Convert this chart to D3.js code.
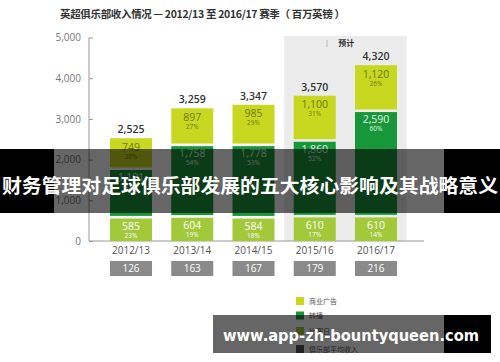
<!DOCTYPE html>
<html>
<head>
<meta charset="utf-8">
<script src="https://cdn.jsdelivr.net/npm/d3@7"></script>
<style>
  body { margin: 0; background: #fff; }
  svg { display: block; }
</style>
</head>
<body>
<script>
// Datos
const temporadas = ["2012/13", "2013/14", "2014/15", "2015/16", "2016/17"];
const diaPartido = [585, 604, 584, 610, 610];
const diaPartidoPct = ["23%", "19%", "18%", "17%", "14%"];
const transmision = [1191, 1758, 1778, 1860, 2590];
const transmisionPct = ["47%", "54%", "53%", "52%", "60%"];
const comercial = [749, 897, 985, 1100, 1120];
const comercialPct = ["30%", "27%", "29%", "31%", "26%"];
const totales = [2525, 3259, 3347, 3570, 4320];
const promedioClub = [126, 163, 167, 179, 216];
const ticksY = [0, 1000, 2000, 3000, 4000, 5000];
const temporadasPrevistas = ["2015/16", "2016/17"];
const leyenda = ["商业广告", "转播", "比赛日", "俱乐部平均收入"];

const WIDTH = 500;
const HEIGHT = 362;
const FONT = "'Open Sans', 'Noto Sans', 'Noto Sans CJK SC', sans-serif";
const CJK = "'Noto Sans CJK SC', sans-serif";

const COLORES = {
  comercial: "#c8d820",
  transmision: "#18963a",
  diaPartido: "#a2c93a",
  promedio: "#8a8a8a",
};

const svg = d3.select("body")
  .append("svg")
  .attr("width", WIDTH)
  .attr("height", HEIGHT)
  .style("font-family", FONT);

// Escalas
const escalaY = d3.scaleLinear().domain([0, 5000]).range([241, 37.5]);
const escalaX = d3.scaleBand()
  .domain(temporadas)
  .range([110, 397])
  .paddingInner(0.314)
  .paddingOuter(0);
const bw = escalaX.bandwidth();
const mediaPad = (escalaX.step() - bw) / 2;

// Título
svg.append("text")
  .attr("x", 60)
  .attr("y", 18)
  .attr("font-family", CJK)
  .attr("font-size", 10.5)
  .attr("font-weight", "bold")
  .attr("fill", "#333")
  .attr("textLength", 285)
  .attr("lengthAdjust", "spacing")
  .text("英超俱乐部收入情况  —  2012/13 至 2016/17 赛季（ 百万英镑 ）");

// Zona de previsión
const xPrev0 = escalaX(temporadasPrevistas[0]) - mediaPad;
const xPrev1 = escalaX(temporadasPrevistas[1]) + bw + mediaPad;
svg.append("rect")
  .attr("x", xPrev0)
  .attr("y", 36)
  .attr("width", xPrev1 - xPrev0)
  .attr("height", escalaY(0) - 36)
  .attr("fill", "#ececec");
svg.append("line")
  .attr("x1", 327).attr("x2", 327)
  .attr("y1", 40).attr("y2", 47)
  .attr("stroke", "#bbb");
svg.append("text")
  .attr("x", (xPrev0 + xPrev1) / 2 + 1)
  .attr("y", 46)
  .attr("text-anchor", "middle")
  .attr("font-family", CJK)
  .attr("font-size", 8)
  .attr("font-weight", "bold")
  .attr("fill", "#333")
  .text("预计");

// Eje Y
const ejeY = d3.axisLeft(escalaY)
  .tickValues(ticksY)
  .tickFormat(d3.format(","))
  .tickSize(-4)
  .tickPadding(8);
const gY = svg.append("g")
  .attr("transform", "translate(89,0)")
  .call(ejeY);
gY.select(".domain").attr("stroke", "#999").attr("d", `M0,${escalaY(5000)}V${escalaY(0)}`);
gY.selectAll(".tick line").attr("stroke", "#999");
gY.selectAll(".tick text").attr("font-size", 10).attr("fill", "#777").attr("font-family", FONT);

// Eje X (línea base)
svg.append("line")
  .attr("x1", 89).attr("x2", 424)
  .attr("y1", escalaY(0)).attr("y2", escalaY(0))
  .attr("stroke", "#999");

// Datos apilados
const datos = temporadas.map((t, i) => ({
  temporada: t,
  diaPartido: diaPartido[i],
  transmision: transmision[i],
  comercial: comercial[i],
  pct: { diaPartido: diaPartidoPct[i], transmision: transmisionPct[i], comercial: comercialPct[i] },
  total: totales[i],
  promedio: promedioClub[i],
}));

const claves = ["diaPartido", "transmision", "comercial"];
const pila = d3.stack().keys(claves)(datos);

const colorTexto = { comercial: "#6b7a0a", transmision: "#e6f5e6", diaPartido: "#ffffff" };

const capas = svg.append("g")
  .selectAll("g")
  .data(pila)
  .join("g")
  .attr("fill", (s) => COLORES[s.key]);

capas.selectAll("rect")
  .data((s) => s.map((d) => ({ key: s.key, d })))
  .join("rect")
  .attr("x", (p) => escalaX(p.d.data.temporada))
  .attr("width", bw)
  .attr("y", (p) => escalaY(p.d[1]) + (p.key === "comercial" ? 0 : 1.3))
  .attr("height", (p) => {
    const top = escalaY(p.d[1]) + (p.key === "comercial" ? 0 : 1.3);
    const bottom = escalaY(p.d[0]) - (p.key === "diaPartido" ? 0 : 1.3);
    return bottom - top;
  });

capas.selectAll("text.valor")
  .data((s) => s.map((d) => ({ key: s.key, d })))
  .join("text")
  .attr("class", "valor")
  .attr("x", (p) => escalaX(p.d.data.temporada) + bw / 2)
  .attr("y", (p) => escalaY(p.d[1]) + 12.5)
  .attr("text-anchor", "middle")
  .attr("font-size", 10.5)
  .attr("fill", (p) => colorTexto[p.key])
  .text((p) => d3.format(",")(p.d.data[p.key]));

capas.selectAll("text.pct")
  .data((s) => s.map((d) => ({ key: s.key, d })))
  .join("text")
  .attr("class", "pct")
  .attr("x", (p) => escalaX(p.d.data.temporada) + bw / 2)
  .attr("y", (p) => escalaY(p.d[1]) + 20.5)
  .attr("text-anchor", "middle")
  .attr("font-size", 6.5)
  .attr("fill", (p) => colorTexto[p.key])
  .text((p) => p.d.data.pct[p.key]);

// Totales
svg.append("g")
  .selectAll("text")
  .data(datos)
  .join("text")
  .attr("x", (d) => escalaX(d.temporada) + bw / 2)
  .attr("y", (d) => escalaY(d.total) - 5)
  .attr("text-anchor", "middle")
  .attr("font-size", 10.5)
  .attr("font-weight", 600)
  .attr("fill", "#333")
  .text((d) => d3.format(",")(d.total));

// Etiquetas de temporada
svg.append("g")
  .selectAll("text")
  .data(datos)
  .join("text")
  .attr("x", (d) => escalaX(d.temporada) + bw / 2)
  .attr("y", 253.5)
  .attr("text-anchor", "middle")
  .attr("font-size", 10)
  .attr("fill", "#555")
  .text((d) => d.temporada);

// Ingreso promedio por club
const cajas = svg.append("g")
  .selectAll("g")
  .data(datos)
  .join("g")
  .attr("transform", (d) => `translate(${escalaX(d.temporada)},261)`);
cajas.append("rect")
  .attr("width", bw)
  .attr("height", 15)
  .attr("fill", COLORES.promedio);
cajas.append("text")
  .attr("x", bw / 2)
  .attr("y", 11.3)
  .attr("text-anchor", "middle")
  .attr("font-size", 10)
  .attr("fill", "#fff")
  .text((d) => d.promedio);

// Leyenda
const coloresLeyenda = [COLORES.comercial, COLORES.transmision, COLORES.diaPartido, "#555"];
const posLeyenda = [301, 315.5, 331, 349];
const itemLeyenda = svg.append("g")
  .selectAll("g")
  .data(leyenda)
  .join("g")
  .attr("transform", (d, i) => `translate(296,${posLeyenda[i]})`);
itemLeyenda.append("rect")
  .attr("y", -4)
  .attr("width", 8)
  .attr("height", 8)
  .attr("fill", (d, i) => coloresLeyenda[i]);
itemLeyenda.append("text")
  .attr("x", 13)
  .attr("y", 2.5)
  .attr("font-family", CJK)
  .attr("font-size", 7)
  .attr("fill", "#555")
  .text((d) => d);

// Bandas superpuestas
const banda1 = svg.append("g");
banda1.append("rect").attr("x", 0).attr("y", 149).attr("width", 54).attr("height", 64).attr("fill", "#000");
banda1.append("rect").attr("x", 54).attr("y", 149).attr("width", 390).attr("height", 64).attr("fill", "rgba(0,0,0,0.6)");
banda1.append("rect").attr("x", 444).attr("y", 149).attr("width", 56).attr("height", 64).attr("fill", "#000");
banda1.append("text")
  .attr("x", 250)
  .attr("y", 184.5)
  .attr("dominant-baseline", "central")
  .attr("text-anchor", "middle")
  .attr("font-family", CJK)
  .attr("font-size", 19)
  .attr("font-weight", "bold")
  .attr("fill", "#fff")
  .attr("textLength", 496)
  .attr("lengthAdjust", "spacingAndGlyphs")
  .text("财务管理对足球俱乐部发展的五大核心影响及其战略意义");

const banda2 = svg.append("g");
banda2.append("rect").attr("x", 213).attr("y", 315).attr("width", 231).attr("height", 38).attr("fill", "rgba(0,0,0,0.6)");
banda2.append("rect").attr("x", 444).attr("y", 315).attr("width", 47).attr("height", 38).attr("fill", "#000");
banda2.append("text")
  .attr("x", 223)
  .attr("y", 341)
  .attr("font-family", "'DejaVu Sans', sans-serif")
  .attr("font-size", 16)
  .attr("font-weight", "bold")
  .attr("fill", "#fff")
  .attr("textLength", 256)
  .attr("lengthAdjust", "spacingAndGlyphs")
  .text("www.app-zh-bountyqueen.com");
</script>
</body>
</html>
